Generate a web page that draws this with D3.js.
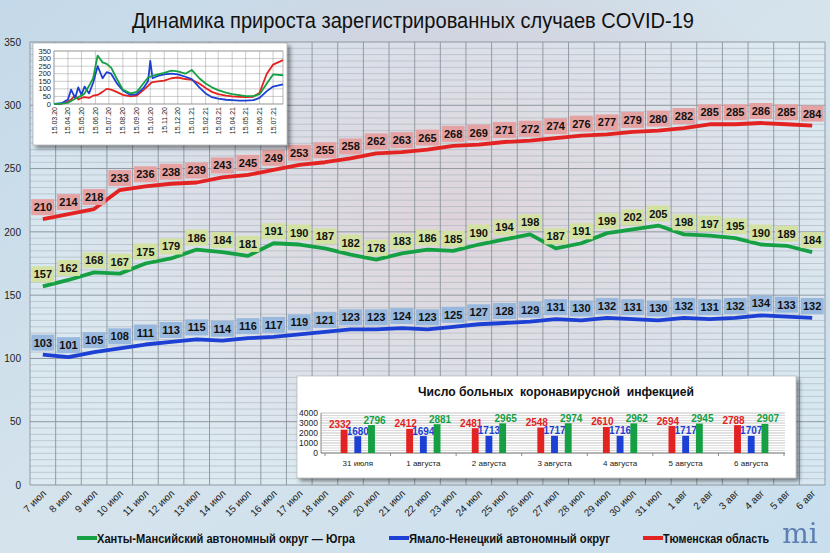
<!DOCTYPE html>
<html lang="ru">
<head>
<meta charset="UTF-8">
<title>Динамика прироста зарегистрированных случаев COVID-19</title>
<script src="https://d3js.org/d3.v7.min.js"></script>
<style>
  body { margin: 0; background: #d3e3ee; }
  svg { display: block; font-family: "Liberation Sans", Arial, sans-serif; }
  .lbl { font-size: 11px; font-weight: bold; fill: #111; }
  .axis text { fill: #222; }
</style>
</head>
<body>
<svg id="chart" width="830" height="553"></svg>
<script>
// ---- данные: основной график ----
const days = ["7 июл","8 июл","9 июл","10 июл","11 июл","12 июл","13 июл","14 июл","15 июл","16 июл",
  "17 июл","18 июл","19 июл","20 июл","21 июл","22 июл","23 июл","24 июл","25 июл","26 июл",
  "27 июл","28 июл","29 июл","30 июл","31 июл","1 авг","2 авг","3 авг","4 авг","5 авг","6 авг"];
const tumen = [210,214,218,233,236,238,239,243,245,249,253,255,258,262,263,265,268,269,271,272,
  274,276,277,279,280,282,285,285,286,285,284];
const hmao = [157,162,168,167,175,179,186,184,181,191,190,187,182,178,183,186,185,190,194,198,
  187,191,199,202,205,198,197,195,190,189,184];
const yanao = [103,101,105,108,111,113,115,114,116,117,119,121,123,123,124,123,125,127,128,129,
  131,130,132,131,130,132,131,132,134,133,132];
const yTicks = [0,50,100,150,200,250,300,350];

// ---- данные: столбцы "Число больных" ----
const barDays = ["31 июля","1 августа","2 августа","3 августа","4 августа","5 августа","6 августа"];
const barTumen = [2332,2412,2481,2548,2610,2694,2788];
const barYanao = [1680,1694,1713,1717,1716,1717,1707];
const barHmao  = [2796,2881,2965,2974,2962,2945,2907];
const barTicks = [0,1000,2000,3000,4000];

// ---- данные: мини-график с начала пандемии ----
const histDates = ["2020-03-15","2020-04-01","2020-04-15","2020-04-22","2020-05-01","2020-05-08","2020-05-15",
  "2020-05-22","2020-06-01","2020-06-10","2020-06-20","2020-07-01","2020-07-10","2020-07-20","2020-08-01",
  "2020-08-15","2020-09-01","2020-09-15","2020-10-01","2020-10-10","2020-10-15","2020-10-20","2020-11-01",
  "2020-11-15","2020-12-01","2020-12-15","2021-01-01","2021-01-15","2021-02-01","2021-02-15","2021-03-01",
  "2021-03-15","2021-04-01","2021-04-15","2021-05-01","2021-05-15","2021-06-01","2021-06-15","2021-07-01",
  "2021-07-15","2021-08-06"];
const histHmao = [0,2,8,20,35,45,55,70,120,170,320,275,265,240,170,95,70,80,140,175,180,185,195,205,220,215,
  200,225,170,135,110,92,75,65,58,52,52,65,135,195,190];
const histYanao = [0,5,30,95,40,110,60,115,70,140,250,170,210,200,140,90,60,65,110,150,285,170,185,195,200,195,
  180,165,110,70,45,35,28,25,22,22,25,40,85,115,130];
const histTumen = [0,3,15,30,55,30,40,45,40,55,60,80,100,95,80,60,50,55,95,120,135,145,150,155,170,175,
  165,160,135,105,80,65,55,50,48,45,48,75,200,260,290];
const histTicks = [0,50,100,150,200,250,300,350];
const histLabels = ["15.03.20","15.04.20","15.05.20","15.06.20","15.07.20","15.08.20","15.09.20","15.10.20",
  "15.11.20","15.12.20","15.01.21","15.02.21","15.03.21","15.04.21","15.05.21","15.06.21","15.07.21"];

const RED = "#e32222", GREEN = "#15a043", BLUE = "#1c3fd4";
const series = [
  { name: "Тюменская область", vals: tumen, color: RED, box: "#e4a2a2" },
  { name: "Ханты-Мансийский автономный округ — Югра", vals: hmao, color: GREEN, box: "#d3e2a3" },
  { name: "Ямало-Ненецкий автономный округ", vals: yanao, color: BLUE, box: "#98b8de" }
];

const svg = d3.select("#chart");
const defs = svg.append("defs");

// фон
const bg = defs.append("linearGradient").attr("id","bg").attr("x1","0").attr("y1","0").attr("x2","1").attr("y2","1");
bg.append("stop").attr("offset","0%").attr("stop-color","#c4d9e9");
bg.append("stop").attr("offset","50%").attr("stop-color","#d5e3ec");
bg.append("stop").attr("offset","100%").attr("stop-color","#c9dfee");
const pink = defs.append("radialGradient").attr("id","pink").attr("cx","0.55").attr("cy","0.4").attr("r","0.5");
pink.append("stop").attr("offset","0%").attr("stop-color","#d7b8c2").attr("stop-opacity",0.8);
pink.append("stop").attr("offset","100%").attr("stop-color","#d7b8c2").attr("stop-opacity",0);
defs.append("filter").attr("id","shadow").attr("x","-5%").attr("y","-5%").attr("width","115%").attr("height","120%")
  .append("feDropShadow").attr("dx",3).attr("dy",3).attr("stdDeviation",2).attr("flood-opacity",0.45);

svg.append("rect").attr("width",830).attr("height",553).attr("fill","url(#bg)");
svg.append("rect").attr("width",830).attr("height",553).attr("fill","url(#pink)");

// ---- основной график ----
const x = d3.scaleBand().domain(days).range([30, 825]);
const y = d3.scaleLinear().domain([0, 350]).range([485, 42]);

svg.append("rect").attr("x",30).attr("y",42).attr("width",795).attr("height",443)
  .attr("fill","#eef5fa").attr("opacity",0.35);

const grid = svg.append("g");
grid.selectAll(".minor").data(d3.range(0, 351, 5)).join("line")
  .attr("x1",30).attr("x2",825).attr("y1",d=>y(d)).attr("y2",d=>y(d))
  .attr("stroke", d => d % 50 === 0 ? "#8e979f" : "#a9b3bc")
  .attr("stroke-width", d => d % 50 === 0 ? 1 : 0.6);
grid.selectAll(".vert").data(days.concat([null])).join("line")
  .attr("x1",(d,i)=>30 + i*x.step()).attr("x2",(d,i)=>30 + i*x.step())
  .attr("y1",42).attr("y2",485).attr("stroke","#8a939c").attr("stroke-width",0.9);

svg.append("g").attr("class","axis").attr("transform","translate(21,0)")
  .call(d3.axisLeft(y).tickValues(yTicks).tickSize(0).tickPadding(0))
  .call(g => g.select(".domain").remove())
  .selectAll("text").style("font-size","10px");

svg.append("g").attr("class","axis")
  .selectAll("text").data(days).join("text")
  .attr("transform", d => `translate(${x(d) + x.bandwidth()/2 + 4},${494}) rotate(-45)`)
  .attr("text-anchor","end")
  .style("font-size","10px")
  .text(d => d);

const line = d3.line().x((d,i)=>x(days[i]) + x.bandwidth()/2).y(d=>y(d));
series.forEach(s => {
  svg.append("path").datum(s.vals).attr("d", line)
    .attr("fill","none").attr("stroke", s.color).attr("stroke-width",3.8)
    .attr("stroke-linejoin","round");
});
series.forEach(s => {
  const g = svg.append("g").selectAll("g").data(s.vals).join("g")
    .attr("transform",(d,i)=>`translate(${x(days[i]) + x.bandwidth()/2},${y(d) - 12})`);
  g.append("rect").attr("x",-11.5).attr("y",-8).attr("width",23).attr("height",16).attr("fill", s.box);
  g.append("text").attr("class","lbl").attr("text-anchor","middle").attr("y",4).text(d=>d);
});

// заголовок
svg.append("text").attr("x",413).attr("y",28).attr("text-anchor","middle")
  .attr("textLength",562).attr("lengthAdjust","spacingAndGlyphs")
  .style("font-size","22px").style("fill","#111")
  .text("Динамика прироста зарегистрированных случаев COVID-19");

// ---- мини-график (слева сверху) ----
const ins = svg.append("g");
ins.append("rect").attr("x",33).attr("y",43).attr("width",254).attr("height",102)
  .attr("fill","#fff").attr("stroke","#999").attr("stroke-width",0.6).attr("filter","url(#shadow)");
const hx = d3.scaleTime().domain([new Date(2020,2,15), new Date(2021,7,6)]).range([54, 283]);
const hy = d3.scaleLinear().domain([0, 350]).range([104, 51]);
ins.selectAll(".hg").data(histTicks).join("line")
  .attr("x1",54).attr("x2",283).attr("y1",d=>hy(d)).attr("y2",d=>hy(d)).attr("stroke","#999").attr("stroke-width",0.5);
ins.selectAll(".hv").data(histLabels).join("line")
  .attr("x1",(d,i)=>hx(new Date(2020,2+i,15))).attr("x2",(d,i)=>hx(new Date(2020,2+i,15)))
  .attr("y1",51).attr("y2",104).attr("stroke","#999").attr("stroke-width",0.5);
ins.append("rect").attr("x",54).attr("y",51).attr("width",229).attr("height",53)
  .attr("fill","none").attr("stroke","#888").attr("stroke-width",0.6);
ins.selectAll(".hyl").data(histTicks).join("text")
  .attr("x",51).attr("y",d=>hy(d)+2.5).attr("text-anchor","end")
  .style("font-size","7.5px").style("fill","#222").text(d=>d);
ins.selectAll(".hxl").data(histLabels).join("text")
  .attr("transform",(d,i)=>`translate(${hx(new Date(2020,2+i,15))+2.5},107) rotate(-90)`)
  .attr("text-anchor","end").style("font-size","7px").style("fill","#222").text(d=>d);
const hline = d3.line().x((d,i)=>hx(d3.isoParse(histDates[i]))).y(d=>hy(d));
[[histTumen, RED],[histYanao, BLUE],[histHmao, GREEN]].forEach(([v,c]) => {
  ins.append("path").datum(v).attr("d", hline).attr("fill","none")
    .attr("stroke", c).attr("stroke-width",1.8).attr("stroke-linejoin","round");
});

// ---- столбцы "Число больных коронавирусной инфекцией" ----
const bc = svg.append("g");
bc.append("rect").attr("x",297).attr("y",376).attr("width",499).attr("height",102)
  .attr("fill","#fff").attr("stroke","#aaa").attr("stroke-width",0.6).attr("filter","url(#shadow)");
bc.append("text").attr("x",556).attr("y",396).attr("text-anchor","middle")
  .attr("xml:space","preserve").style("white-space","pre")
  .attr("textLength",276).attr("lengthAdjust","spacingAndGlyphs")
  .style("font-size","12.5px").style("font-weight","bold").style("fill","#111")
  .text("Число больных  коронавирусной  инфекцией");
const bx = d3.scaleBand().domain(barDays).range([325, 784]);
const by = d3.scaleLinear().domain([0, 4000]).range([453, 413]);
const sub = d3.scaleBand().domain([0,1,2]).range([-24, 24]).padding(0.5);
bc.selectAll(".bg").data(d3.range(0, 4001, 250)).join("line")
  .attr("x1",321).attr("x2",785).attr("y1",d=>by(d)).attr("y2",d=>by(d))
  .attr("stroke", d => d % 1000 === 0 ? "#aaa" : "#c8c8c8").attr("stroke-width",0.7);
bc.append("line").attr("x1",321).attr("x2",321).attr("y1",413).attr("y2",453).attr("stroke","#888");
bc.append("line").attr("x1",321).attr("x2",785).attr("y1",453).attr("y2",453).attr("stroke","#888");
bc.selectAll(".bt").data(barDays.concat([null])).join("line")
  .attr("x1",(d,i)=>325 + i*bx.step()).attr("x2",(d,i)=>325 + i*bx.step())
  .attr("y1",453).attr("y2",456).attr("stroke","#888");
bc.selectAll(".byl").data(barTicks).join("text")
  .attr("x",318).attr("y",d=>by(d)+3).attr("text-anchor","end")
  .style("font-size","8.5px").style("fill","#222").text(d=>d);
bc.selectAll(".bxl").data(barDays).join("text")
  .attr("x",d=>bx(d)+bx.bandwidth()/2).attr("y",466).attr("text-anchor","middle")
  .style("font-size","8px").style("fill","#222").text(d=>d);
const barSeries = [[barTumen, RED, -4],[barYanao, BLUE, 0],[barHmao, GREEN, 3]];
barSeries.forEach(([vals, c, dx], k) => {
  bc.selectAll(null).data(vals).join("rect")
    .attr("x",(d,i)=>bx(barDays[i]) + bx.bandwidth()/2 + sub(k))
    .attr("y",d=>by(d)).attr("width",sub.bandwidth()).attr("height",d=>by(0)-by(d)).attr("fill",c);
  bc.selectAll(null).data(vals).join("text")
    .attr("x",(d,i)=>bx(barDays[i]) + bx.bandwidth()/2 + sub(k) + sub.bandwidth()/2 + dx)
    .attr("y",d=>by(d) - 1.5).attr("text-anchor","middle")
    .style("font-size","10px").style("font-weight","bold").style("fill",c).text(d=>d);
});

// ---- легенда ----
const legend = [
  { s: series[1], x: 77, w: 258 },
  { s: series[2], x: 389, w: 201 },
  { s: series[0], x: 643, w: 106 }
];
legend.forEach(l => {
  svg.append("line").attr("x1",l.x).attr("x2",l.x+20).attr("y1",538).attr("y2",538)
    .attr("stroke", l.s.color).attr("stroke-width",4);
  svg.append("text").attr("x",l.x+20).attr("y",542.5)
    .attr("textLength",l.w).attr("lengthAdjust","spacingAndGlyphs")
    .style("font-size","12.5px").style("font-weight","bold").style("fill","#111").text(l.s.name);
});

// логотип
svg.append("text").attr("x",800).attr("y",543).attr("text-anchor","middle")
  .style("font-family","'DejaVu Serif', serif").style("font-size","28px")
  .style("fill","#4a6ea8").style("opacity",0.85).text("mi");
</script>
</body>
</html>
